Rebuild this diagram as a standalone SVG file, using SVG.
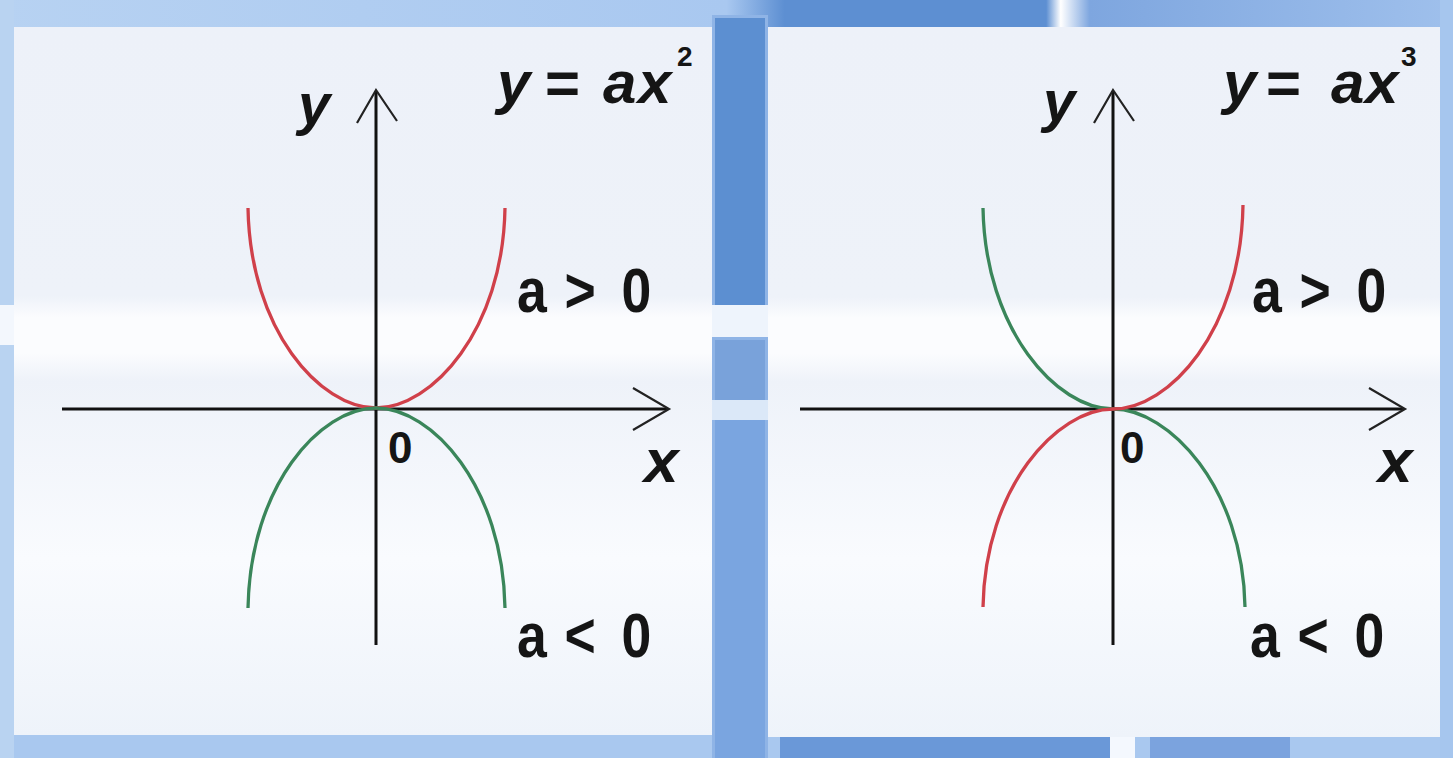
<svg xmlns="http://www.w3.org/2000/svg" width="1453" height="758" viewBox="0 0 1453 758">
<defs>
<linearGradient id="topband" x1="0" y1="0" x2="1" y2="0">
<stop offset="0" stop-color="#b7d2f2"/><stop offset="0.5" stop-color="#a9c8f0"/><stop offset="0.54" stop-color="#5d8fd2"/><stop offset="0.72" stop-color="#5d8fd2"/><stop offset="0.73" stop-color="#ffffff"/><stop offset="0.75" stop-color="#7ea6df"/><stop offset="1" stop-color="#9fc0ec"/>
</linearGradient>
<linearGradient id="p1" x1="0" y1="0" x2="0" y2="1">
<stop offset="0" stop-color="#edf1f9"/><stop offset="0.38" stop-color="#eef2f9"/><stop offset="0.41" stop-color="#fbfcfe"/><stop offset="0.46" stop-color="#fbfcfe"/><stop offset="0.5" stop-color="#eef2f9"/><stop offset="0.75" stop-color="#f9fbfe"/><stop offset="1" stop-color="#eef3fa"/>
</linearGradient>
<style>
.ax{stroke:#111;stroke-width:3;fill:none}
.ah{stroke:#222;stroke-width:2.2;fill:none}
.red{stroke:#d0404a;stroke-width:3.3;fill:none}
.grn{stroke:#3a865a;stroke-width:3.3;fill:none}
.t{font-family:"Liberation Sans",Arial,sans-serif;font-weight:bold;fill:#151515}
.it{font-style:italic}
</style>
</defs>
<g id="background">
<rect x="0" y="0" width="1453" height="758" fill="#a9c8ef"/>
<rect x="0" y="0" width="1453" height="27" fill="url(#topband)"/>
<rect x="0" y="0" width="14" height="758" fill="#b9d3f1"/>
<rect x="0" y="305" width="60" height="40" fill="#f3f7fd"/>
<rect x="712" y="15" width="56" height="743" fill="#8fb4e6"/>
<rect x="715" y="18" width="50" height="287" fill="#5c8fd1"/>
<rect x="712" y="305" width="56" height="32" fill="#eef4fc"/>
<rect x="715" y="340" width="50" height="60" fill="#79a2da"/>
<rect x="712" y="400" width="56" height="20" fill="#dbe8f8"/>
<rect x="715" y="420" width="50" height="338" fill="#7aa5e0"/>
<rect x="780" y="737" width="330" height="21" fill="#6a98d8"/>
<rect x="1110" y="737" width="25" height="21" fill="#f4f8fe"/>
<rect x="1150" y="737" width="140" height="21" fill="#7ba3de"/>
<rect x="1440" y="0" width="13" height="758" fill="#a6c6ee"/>
</g>
<g id="panel-quadratic">
<rect x="14" y="27" width="698" height="708" fill="url(#p1)"/>
<path class="ax" d="M376,645 L376,91"/>
<path class="ah" d="M357,123 L376,90 L397,121"/>
<path class="ax" d="M62,409 L668,409"/>
<path class="ah" d="M633,388 L669,409 L633,430"/>
<path class="red" d="M248,208 C250,330 320,408 376,408 C432,408 503,330 505,208"/>
<path class="grn" d="M248,608 C250,486 320,408 376,408 C432,408 503,486 505,608"/>
<text class="t it" x="298" y="124" font-size="58">y</text>
<text class="t" y="103" font-size="60"><tspan class="it" x="497">y</tspan><tspan x="545">=</tspan><tspan class="it" x="603">a</tspan><tspan class="it" x="638">x</tspan></text>
<text class="t" x="677" y="66" font-size="28">2</text>
<text class="t" transform="translate(517,312) scale(0.85,1)" font-size="63"><tspan x="0">a</tspan><tspan x="56">&gt;</tspan><tspan x="123">0</tspan></text>
<text class="t" transform="translate(517,657) scale(0.85,1)" font-size="63"><tspan x="0">a</tspan><tspan x="56">&lt;</tspan><tspan x="123">0</tspan></text>
<text class="t" x="388" y="463" font-size="44">0</text>
<text class="t it" x="644" y="482" font-size="62">x</text>
</g>
<g id="panel-cubic">
<rect x="768" y="27" width="672" height="710" fill="url(#p1)"/>
<path class="ax" d="M1113,645 L1113,91"/>
<path class="ah" d="M1094,123 L1113,90 L1134,121"/>
<path class="ax" d="M800,409 L1404,409"/>
<path class="ah" d="M1369,388 L1405,409 L1369,430"/>
<path class="grn" d="M983,208 C985,330 1057,409 1113,409 C1169,409 1243,487 1245,607"/>
<path class="red" d="M983,607 C985,487 1057,409 1113,409 C1169,409 1241,331 1243,205"/>
<text class="t it" x="1043" y="121" font-size="58">y</text>
<text class="t" y="103" font-size="60"><tspan class="it" x="1223">y</tspan><tspan x="1266">=</tspan><tspan class="it" x="1331">a</tspan><tspan class="it" x="1365">x</tspan></text>
<text class="t" x="1401" y="66" font-size="28">3</text>
<text class="t" transform="translate(1252,312) scale(0.85,1)" font-size="63"><tspan x="0">a</tspan><tspan x="56">&gt;</tspan><tspan x="123">0</tspan></text>
<text class="t" transform="translate(1250,657) scale(0.85,1)" font-size="63"><tspan x="0">a</tspan><tspan x="56">&lt;</tspan><tspan x="123">0</tspan></text>
<text class="t" x="1120" y="463" font-size="44">0</text>
<text class="t it" x="1378" y="482" font-size="62">x</text>
</g>
</svg>
